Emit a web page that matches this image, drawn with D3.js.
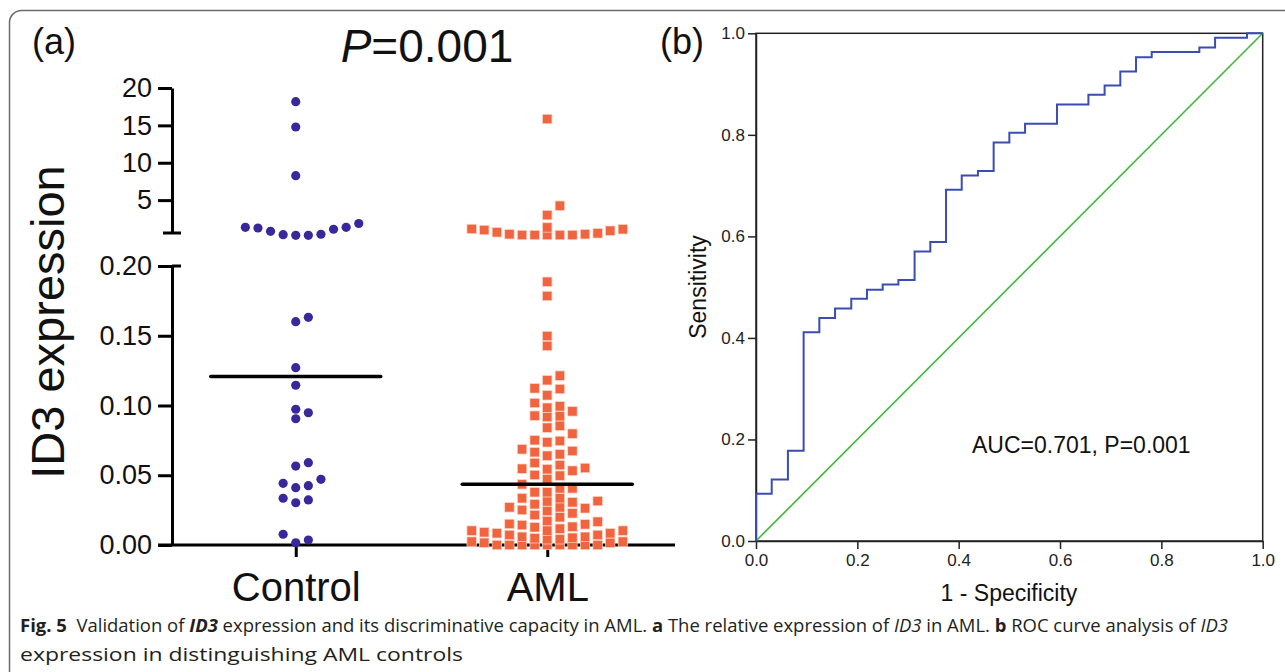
<!DOCTYPE html>
<html>
<head>
<meta charset="utf-8">
<script src="https://cdn.jsdelivr.net/npm/d3@7"></script>
<style>
  body { margin: 0; background: #fff; }
  svg { display: block; }
</style>
</head>
<body>
<div id="chart"></div>
<script>
// ---- Data ----
const groups = ['Control', 'AML'];

const controlValues = [
  0.0016, 0.0036, 0.0077, 0.0303, 0.0323, 0.0335, 0.0411, 0.0425, 0.0442, 0.0471,
  0.0566, 0.0590, 0.0905, 0.0948, 0.0973, 0.1145, 0.1271, 0.1601, 0.1632,
  0.29, 0.29, 0.37, 0.43, 0.83, 1.10, 1.27, 1.36, 1.36, 1.87, 8.27, 14.78, 18.17
];

const amlValues = [
  0, 0, 0, 0, 0, 0, 0, 0, 0, 0.0016, 0.0016, 0.0024, 0.0024,
  0.0041, 0.0041, 0.0048, 0.0052, 0.0059, 0.0059, 0.0072, 0.0072, 0.0084, 0.0084, 0.0091,
  0.0103, 0.0103, 0.0103, 0.0117, 0.0127, 0.0131, 0.0143, 0.0148, 0.0151, 0.0167, 0.0172,
  0.0199, 0.0215, 0.0227, 0.0244, 0.0251, 0.0263, 0.0270, 0.0270, 0.0292, 0.0306,
  0.0312, 0.0315, 0.0335, 0.0335, 0.0378, 0.0378, 0.0406, 0.0406, 0.0435,
  0.0473, 0.0497, 0.0502, 0.0533, 0.0543, 0.0547, 0.0552, 0.0573, 0.0588,
  0.0640, 0.0650, 0.0665, 0.0674, 0.0686, 0.0736, 0.0746, 0.0751, 0.0798,
  0.0841, 0.0855, 0.0918, 0.0923, 0.0927, 0.0958, 0.0984, 0.0994, 0.1018,
  0.1073, 0.1118, 0.1123, 0.1181, 0.1214, 0.1427, 0.1498, 0.1785, 0.1887,
  0.33, 0.33, 0.33, 0.33, 0.33, 0.43, 0.43, 0.56, 0.69, 0.91, 1.00, 1.10, 1.14,
  1.34, 2.99, 4.25, 15.85
];

const upperTicks = [5, 10, 15, 20];
const lowerTicks = [0, 0.05, 0.10, 0.15, 0.20];

// ROC step corners (1 - specificity, sensitivity)
const rocFpr = [0, 0, 0.031, 0.063, 0.094, 0.125, 0.156, 0.188, 0.219, 0.25, 0.281, 0.313,
  0.344, 0.375, 0.406, 0.438, 0.469, 0.5, 0.531, 0.594, 0.656, 0.688, 0.719, 0.75,
  0.781, 0.875, 0.906, 0.969, 1.0];
const rocTpr = [0, 0.093, 0.121, 0.178, 0.411, 0.439, 0.458, 0.477, 0.495, 0.505, 0.514, 0.570,
  0.589, 0.692, 0.720, 0.729, 0.785, 0.804, 0.822, 0.860, 0.879, 0.897, 0.925, 0.953,
  0.963, 0.972, 0.991, 1.0, 1.0];
const rocTicks = [0, 0.2, 0.4, 0.6, 0.8, 1.0];

const FONT = "'Liberation Sans', Arial, Helvetica, sans-serif";
const W = 1285, H = 672;

const svg = d3.select('#chart').append('svg')
  .attr('width', W).attr('height', H)
  .attr('viewBox', `0 0 ${W} ${H}`);

// Outer frame (rounded top-left, runs off right/bottom)
svg.append('path')
  .attr('d', `M9.5,${H} V22 A12,12 0 0 1 21.5,10.5 H${W}`)
  .attr('fill', 'none').attr('stroke', '#6b6b6b').attr('stroke-width', 1.5);

// ================= Panel (a): dot plot with broken axis =================
const BREAK = 0.2;
const axisX = 172;
const upper = d3.scaleLinear().domain([0.6, 20]).range([233, 88]);
const lower = d3.scaleLinear().domain([0, 0.2]).range([545, 266]);
const yOf = v => v > BREAK ? upper(v) : lower(v);
const xCat = d3.scalePoint().domain(groups).range([170, 673]).padding(0.5);

const a = svg.append('g').attr('font-family', FONT);

// Y axis segments
const upperAxis = a.append('g').attr('transform', `translate(${axisX},0)`)
  .call(d3.axisLeft(upper).tickValues(upperTicks).tickFormat(d3.format('d'))
    .tickSize(14).tickSizeOuter(0).tickPadding(6));
const lowerAxis = a.append('g').attr('transform', `translate(${axisX},0)`)
  .call(d3.axisLeft(lower).tickValues(lowerTicks).tickFormat(d3.format('.2f'))
    .tickSize(14).tickSizeOuter(0).tickPadding(6));
[upperAxis, lowerAxis].forEach(g => {
  g.attr('font-size', 27).attr('font-family', FONT);
  g.selectAll('path, line').attr('stroke', '#000').attr('stroke-width', 3);
  g.selectAll('text').attr('fill', '#111');
});

// break caps
a.append('line').attr('x1', axisX - 9).attr('x2', axisX + 9)
  .attr('y1', upper(0.6)).attr('y2', upper(0.6))
  .attr('stroke', '#000').attr('stroke-width', 3);
a.append('line').attr('x1', axisX).attr('x2', axisX + 9)
  .attr('y1', lower(0.2)).attr('y2', lower(0.2))
  .attr('stroke', '#000').attr('stroke-width', 3);

// X axis
a.append('line').attr('x1', axisX - 14).attr('x2', 675)
  .attr('y1', lower(0)).attr('y2', lower(0))
  .attr('stroke', '#000').attr('stroke-width', 3);
const xAxis = a.append('g').attr('transform', `translate(0,${lower(0)})`)
  .call(d3.axisBottom(xCat).tickSize(12).tickSizeOuter(0).tickPadding(16));
xAxis.select('.domain').remove();
xAxis.attr('font-size', 40).attr('font-family', FONT);
xAxis.selectAll('line').attr('stroke', '#000').attr('stroke-width', 3);
xAxis.selectAll('text').attr('fill', '#111');

// Column-scatter layout: slots 0,+1,-1,+2,... first free within bin height
function swarm(values, slotW, maxSlot) {
  const pts = values.map(v => ({ v, y: yOf(v) })).sort((p, q) => p.v - q.v);
  const order = [0];
  for (let k = 1; k <= maxSlot; k++) order.push(k, -k);
  const placed = [];
  pts.forEach(p => {
    const h = p.v > BREAK ? 12 : 9;
    let best = 0, bestGap = -1;
    for (const s of order) {
      const gaps = placed.filter(q => q.slot === s).map(q => Math.abs(q.y - p.y));
      const gap = gaps.length ? d3.min(gaps) : Infinity;
      if (gap >= h) { best = s; break; }
      if (gap > bestGap) { bestGap = gap; best = s; }
    }
    p.slot = best;
    p.dx = best * slotW;
    placed.push(p);
  });
  return placed;
}

const slotW = 12.6;
const ctrlPts = swarm(controlValues, slotW, 6);
const amlPts = swarm(amlValues, slotW, 6);

a.append('g').selectAll('circle')
  .data(ctrlPts).enter().append('circle')
  .attr('cx', d => xCat('Control') + d.dx)
  .attr('cy', d => d.y)
  .attr('r', 4.6)
  .attr('fill', '#37299b');

const sq = 9.4;
a.append('g').selectAll('rect')
  .data(amlPts).enter().append('rect')
  .attr('x', d => xCat('AML') + d.dx - sq / 2)
  .attr('y', d => d.y - sq / 2)
  .attr('width', sq).attr('height', sq)
  .attr('fill', '#f0653f')
  .attr('stroke', '#fbd3c4').attr('stroke-width', 0.7);

// Median lines
const medians = [
  { g: 'Control', m: d3.median(controlValues) },
  { g: 'AML', m: d3.median(amlValues) }
];
a.append('g').selectAll('line')
  .data(medians).enter().append('line')
  .attr('x1', d => xCat(d.g) - 85).attr('x2', d => xCat(d.g) + 85)
  .attr('y1', d => yOf(d.m)).attr('y2', d => yOf(d.m))
  .attr('stroke', '#000').attr('stroke-width', 3.5).attr('stroke-linecap', 'round');

// Labels
a.append('text')
  .attr('transform', 'translate(64,322) rotate(-90)')
  .attr('text-anchor', 'middle').attr('font-size', 47).attr('fill', '#111')
  .text('ID3 expression');

a.append('text').attr('x', 32).attr('y', 54)
  .attr('font-size', 36).attr('fill', '#111').text('(a)');

const title = a.append('text').attr('x', 427).attr('y', 62)
  .attr('text-anchor', 'middle').attr('font-size', 46).attr('fill', '#111');
title.append('tspan').attr('font-style', 'italic').text('P');
title.append('tspan').text('=0.001');

// ================= Panel (b): ROC curve =================
const xR = d3.scaleLinear().domain([0, 1]).range([756, 1262.7]);
const yR = d3.scaleLinear().domain([0, 1]).range([541, 33.3]);
const b = svg.append('g').attr('font-family', FONT);

b.append('rect')
  .attr('x', xR(0)).attr('y', yR(1))
  .attr('width', xR(1) - xR(0)).attr('height', yR(0) - yR(1))
  .attr('fill', 'none').attr('stroke', '#222').attr('stroke-width', 1.5);

const rxAxis = b.append('g').attr('transform', `translate(0,${yR(0)})`)
  .call(d3.axisBottom(xR).tickValues(rocTicks).tickFormat(d3.format('.1f'))
    .tickSize(8).tickSizeOuter(0).tickPadding(5));
const ryAxis = b.append('g').attr('transform', `translate(${xR(0)},0)`)
  .call(d3.axisLeft(yR).tickValues(rocTicks).tickFormat(d3.format('.1f'))
    .tickSize(8).tickSizeOuter(0).tickPadding(3));
[rxAxis, ryAxis].forEach(g => {
  g.attr('font-size', 17).attr('font-family', FONT);
  g.selectAll('path, line').attr('stroke', '#222').attr('stroke-width', 1.5);
  g.selectAll('text').attr('fill', '#222');
});

// reference diagonal
b.append('line')
  .attr('x1', xR(0)).attr('y1', yR(0)).attr('x2', xR(1)).attr('y2', yR(1))
  .attr('stroke', '#3cb83a').attr('stroke-width', 1.6);

// ROC step line
const rocPts = rocFpr.map((f, i) => [f, rocTpr[i]]);
b.append('path')
  .datum(rocPts)
  .attr('d', d3.line().x(d => xR(d[0])).y(d => yR(d[1])).curve(d3.curveStepAfter))
  .attr('fill', 'none').attr('stroke', '#3b4db3').attr('stroke-width', 2);

b.append('text').attr('x', 972).attr('y', 452.5)
  .attr('font-size', 23).attr('fill', '#111').text('AUC=0.701, P=0.001');

b.append('text')
  .attr('transform', 'translate(706,287) rotate(-90)')
  .attr('text-anchor', 'middle').attr('font-size', 23).attr('fill', '#111')
  .text('Sensitivity');

b.append('text').attr('x', 1009).attr('y', 601)
  .attr('text-anchor', 'middle').attr('font-size', 23).attr('fill', '#111')
  .text('1 - Specificity');

b.append('text').attr('x', 660).attr('y', 54)
  .attr('font-size', 36).attr('fill', '#111').text('(b)');

// ================= Caption =================
const cap = svg.append('g').attr('font-family', "'Open Sans', 'Noto Sans', sans-serif")
  .attr('font-size', 18).attr('fill', '#231f20');

const line1 = cap.append('text').attr('x', 20).attr('y', 632)
  .attr('textLength', 1208).attr('lengthAdjust', 'spacingAndGlyphs');
[
  ['Fig. 5', 'b'], ['  Validation of ', ''], ['ID3', 'bi'],
  [' expression and its discriminative capacity in AML. ', ''], ['a', 'b'],
  [' The relative expression of ', ''], ['ID3', 'i'], [' in AML. ', ''], ['b', 'b'],
  [' ROC curve analysis of ', ''], ['ID3', 'i']
].forEach(([t, s]) => {
  line1.append('tspan')
    .attr('font-weight', s.includes('b') ? 700 : null)
    .attr('font-style', s.includes('i') ? 'italic' : null)
    .style('white-space', 'pre')
    .text(t);
});

cap.append('text').attr('x', 20).attr('y', 661)
  .attr('textLength', 443).attr('lengthAdjust', 'spacingAndGlyphs')
  .text('expression in distinguishing AML controls');
</script>
</body>
</html>
